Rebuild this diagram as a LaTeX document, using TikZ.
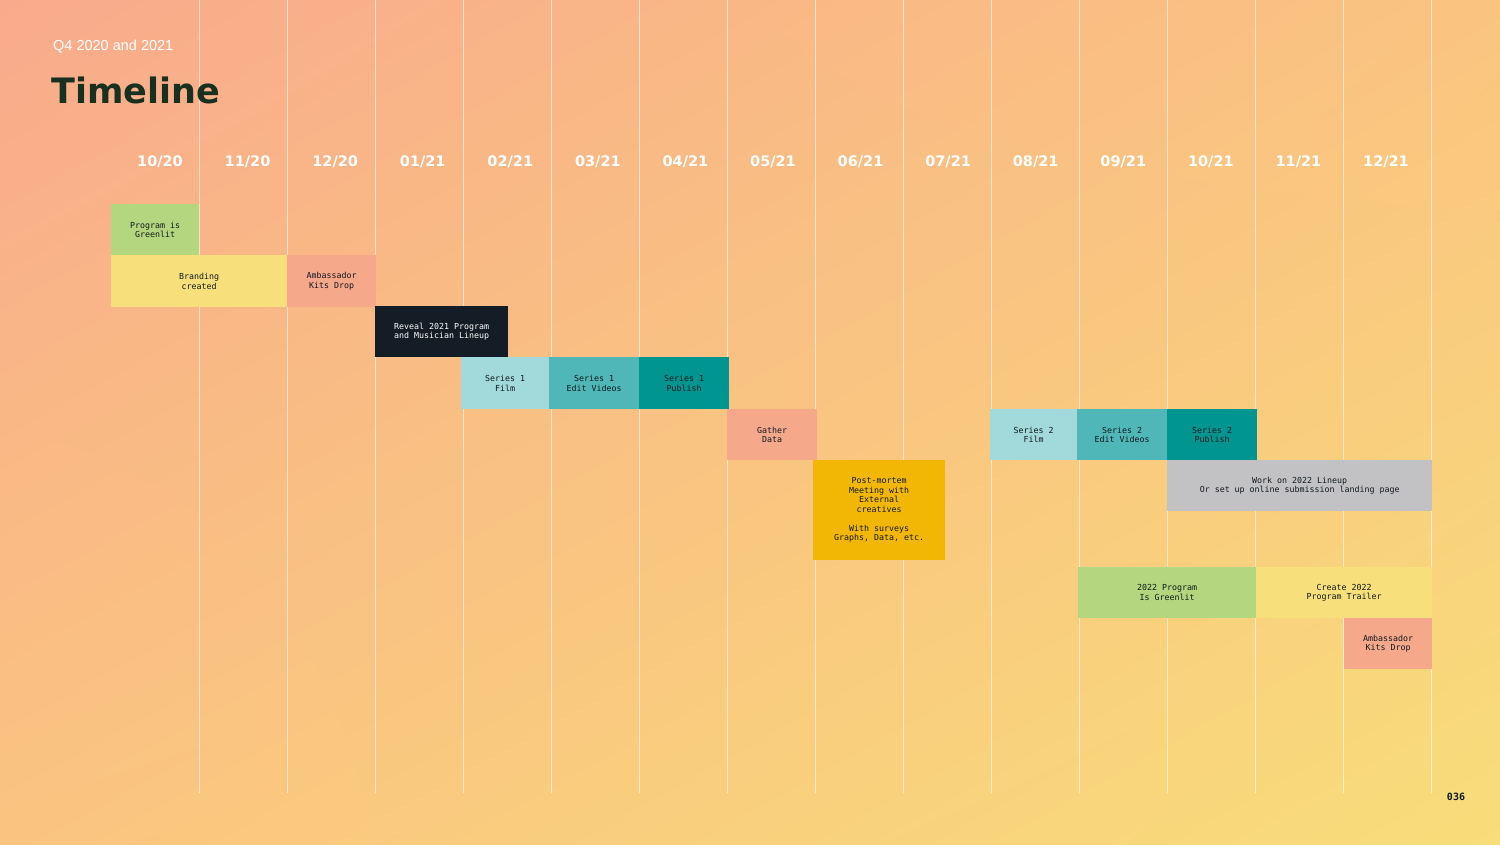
\documentclass[tikz,border=0pt]{standalone}
\usepackage{fontspec}
\setmainfont{Liberation Sans}
\newfontfamily\boxfont{DejaVu Sans Mono}
\newfontfamily\headfont{DejaVu Sans}
\usepackage{xcolor}
\usetikzlibrary{shadings}

\definecolor{bgA}{HTML}{F9AA8C}
\definecolor{bgB}{HTML}{FAC480}
\definecolor{bgC}{HTML}{F8DD7A}
\definecolor{titlegreen}{HTML}{17301F}
\definecolor{greenC}{HTML}{B4D67E}
\definecolor{yellowC}{HTML}{F7DF7B}
\definecolor{salmonC}{HTML}{F6A88A}
\definecolor{navyC}{HTML}{141C25}
\definecolor{tealA}{HTML}{A2D9DA}
\definecolor{tealB}{HTML}{50B7B9}
\definecolor{tealC}{HTML}{009590}
\definecolor{goldC}{HTML}{F2B705}
\definecolor{grayC}{HTML}{C2C2C4}
\definecolor{inkC}{HTML}{111A1E}

\begin{document}
\begin{tikzpicture}[x=1pt, y=-1pt,
  task/.style={fill=#1, anchor=north west, inner sep=0pt, align=center,
    text=inkC, font=\boxfont\fontsize{8.3}{9.5}\selectfont},
  month/.style={text=white, font=\headfont\bfseries\fontsize{14.5}{16}\selectfont},
  gridline/.style={white, opacity=0.6, line width=1pt}]
\useasboundingbox (0,0) rectangle (1500,844);
\shade[upper left=bgA, upper right=bgB, lower left=bgB, lower right=bgC] (0,0) rectangle (1500,844);

% month columns
\foreach \i in {0,...,14}
  \draw[gridline] (199+88.07*\i,0) -- (199+88.07*\i,793);
\foreach \mo/\yr [count=\i from 0] in {10/20,11/20,12/20,01/21,02/21,03/21,04/21,05/21,06/21,07/21,08/21,09/21,10/21,11/21,12/21}
  \node[month] (m\i) at (160+87.57*\i,162) {\mo/\yr};

% heading
\node[anchor=base west, text=white, font=\fontsize{14.5}{16}\selectfont, inner sep=0pt] (sub) at (53,50) {Q4 2020 and 2021};
\node[anchor=base west, text=titlegreen, font=\headfont\bfseries\fontsize{35}{40}\selectfont, inner sep=0pt] (title) at (51,103) {Timeline};

% 2020
\node[task=greenC, minimum width=88, minimum height=51] (greenlit) at (111,204) {Program is\\Greenlit};
\node[task=yellowC, minimum width=176, minimum height=52] (branding) at (111,255) {Branding\\created};
\node[task=salmonC, minimum width=89, minimum height=52] (kits) at (287,255) {Ambassador\\Kits Drop};
\node[task=navyC, text=white, minimum width=133, minimum height=51] (reveal) at (375,306) {Reveal 2021 Program\\and Musician Lineup};

% series 1
\node[task=tealA, minimum width=88, minimum height=52] (film1) at (461,357) {Series 1\\Film};
\node[task=tealB, minimum width=90, minimum height=52] (edit1) at (549,357) {Series 1\\Edit Videos};
\node[task=tealC, minimum width=90, minimum height=52] (pub1) at (639,357) {Series 1\\Publish};
\node[task=salmonC, minimum width=90, minimum height=51] (gather) at (727,409) {Gather\\Data};
\node[task=goldC, minimum width=132, minimum height=100] (postmortem) at (813,460)
  {Post-mortem\\Meeting with\\External\\creatives\\[9.5pt]With surveys\\Graphs, Data, etc.};

% series 2
\node[task=tealA, minimum width=87, minimum height=51] (film2) at (990,409) {Series 2\\Film};
\node[task=tealB, minimum width=90, minimum height=51] (edit2) at (1077,409) {Series 2\\Edit Videos};
\node[task=tealC, minimum width=90, minimum height=51] (pub2) at (1167,409) {Series 2\\Publish};
\node[task=grayC, minimum width=265, minimum height=51] (lineup) at (1167,460) {Work on 2022 Lineup\\Or set up online submission landing page};

% 2022 prep
\node[task=greenC, minimum width=178, minimum height=51] (greenlit22) at (1078,567) {2022 Program\\Is Greenlit};
\node[task=yellowC, minimum width=176, minimum height=51] (trailer) at (1256,567) {Create 2022\\Program Trailer};
\node[task=salmonC, minimum width=88, minimum height=51] (kits22) at (1344,618) {Ambassador\\Kits Drop};

\node[text=inkC, font=\boxfont\bfseries\fontsize{10}{11}\selectfont] (page) at (1456,797) {036};
\end{tikzpicture}
\end{document}
